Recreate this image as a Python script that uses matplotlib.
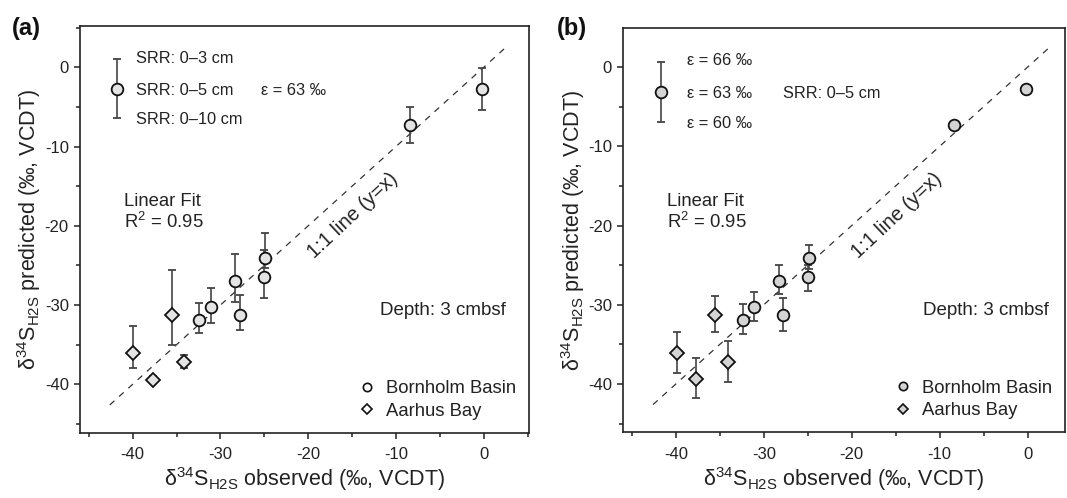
"""
Predicted vs observed d34S of H2S, two panels (SRR and epsilon sensitivity).
"""

import matplotlib
matplotlib.use("Agg")
import matplotlib.pyplot as plt
from matplotlib.lines import Line2D
from matplotlib.ticker import MultipleLocator
import numpy as np

plt.rcParams['font.family'] = ['Liberation Sans', 'DejaVu Sans']
plt.rcParams['mathtext.default'] = 'regular'
plt.rcParams['axes.unicode_minus'] = False

# Bornholm Basin (circles)
bb_obs = [-0.2, -8.4, -24.9, -25.0, -28.3, -27.8, -31.1, -32.4]
bb_pred = [-2.7, -7.3, -24.1, -26.5, -27.0, -31.3, -30.3, -31.9]
# Aarhus Bay (diamonds)
ab_obs = [-39.9, -35.5, -34.1, -37.7]
ab_pred = [-36.1, -31.3, -37.2, -39.4]

# error bar ends (top, bottom) panel (a): SRR range
bb_top_a = [-0.1, -5.0, -20.9, -23.0, -23.6, -28.7, -27.8, -29.8]
bb_bot_a = [-5.4, -9.6, -25.3, -29.1, -29.6, -33.1, -32.2, -33.5]
ab_top_a = [-32.7, -25.6, -36.3, -39.0]
ab_bot_a = [-37.9, -35.0, -37.9, -39.8]

# error bar ends panel (b): epsilon range
bb_top_b = [-2.7, -7.3, -22.5, -25.0, -25.0, -29.2, -28.4, -29.9]
bb_bot_b = [-2.7, -7.3, -25.5, -28.2, -28.7, -33.3, -32.1, -33.7]
ab_top_b = [-33.4, -28.9, -34.6, -36.7]
ab_bot_b = [-38.6, -33.4, -39.8, -41.8]

# key symbol in upper left: x, y, top, bottom
key_a = [-41.8, -2.7, 1.0, -6.4]
key_b = [-41.7, -3.1, 0.7, -6.9]
key_labels_a = ["SRR: 0–3 cm", "SRR: 0–5 cm", "SRR: 0–10 cm"]
key_labels_b = ["ε = 66 ‰", "ε = 63 ‰", "ε = 60 ‰"]
side_label_a = "ε = 63 ‰"
side_label_b = "SRR: 0–5 cm"

TXT = '#222222'
ERR = '#444444'


def panel(ax, tops, bots, key, key_labels, side_label, face, legend_face,
          key_dx, side_x, xmax, ymax):
    bb_t, bb_b = tops[0], bots[0]
    ab_t, ab_b = tops[1], bots[1]

    # 1:1 line
    line_x = np.array([-42.6, 2.5])
    ax.plot(line_x, line_x, ls=(0, (5, 5)), color='#333333', lw=0.9, zorder=1)

    y = np.array(bb_pred)
    yerr = [y - np.array(bb_b), np.array(bb_t) - y]
    ax.errorbar(bb_obs, bb_pred, yerr=yerr, fmt='o', ms=8.4, mfc=face, mec='#111111',
                mew=1.3, ecolor=ERR, elinewidth=1.2, capsize=3, capthick=1.2, zorder=3)
    y = np.array(ab_pred)
    yerr = [y - np.array(ab_b), np.array(ab_t) - y]
    ax.errorbar(ab_obs, ab_pred, yerr=yerr, fmt='D', ms=7.2, mfc=face, mec='#111111',
                mew=1.3, ecolor=ERR, elinewidth=1.2, capsize=3, capthick=1.2, zorder=3)

    # key symbol
    kx, ky, kt, kb = key
    ax.errorbar([kx], [ky], yerr=[[ky - kb], [kt - ky]], fmt='o', ms=8.4, mfc=face,
                mec='#111111', mew=1.3, ecolor=ERR, elinewidth=1.2, capsize=3, capthick=1.2)
    tx = kx + key_dx
    for lab, ty in zip(key_labels, [kt + 0.1, ky - 0.2, kb - 0.2]):
        ax.text(tx, ty, lab, fontsize=11.8, color=TXT, va='center', ha='left')
    ax.text(side_x, ky - 0.2, side_label, fontsize=11.8, color=TXT, va='center', ha='left')

    ax.text(-41.0, -16.9, "Linear Fit", fontsize=13.3, color=TXT, va='center')
    ax.text(-41.0, -19.5, "R$^2$ = 0.95", fontsize=13.3, color=TXT, va='center')
    ax.text(-14.9, -18.7, "1:1 line (y=x)", fontsize=14.5, color=TXT, rotation=43,
            ha='center', va='center', rotation_mode='anchor')
    ax.text(-4.7, -30.7, "Depth: 3 cmbsf", fontsize=13.5, color=TXT, ha='center', va='center')

    handles = [
        Line2D([], [], ls='none', marker='o', ms=6, mfc=legend_face, mec='#111111', mew=1.2),
        Line2D([], [], ls='none', marker='D', ms=5, mfc=legend_face, mec='#111111', mew=1.2),
    ]
    ax.legend(handles, ["Bornholm Basin", "Aarhus Bay"], loc='lower right', frameon=False,
              fontsize=13.3, handletextpad=0.4, handlelength=1.2, labelspacing=0.3,
              borderaxespad=0.3, labelcolor=TXT)

    ax.set_xlim(-46, xmax)
    ax.set_ylim(-46.1, ymax)
    ax.xaxis.set_major_locator(MultipleLocator(10))
    ax.xaxis.set_minor_locator(MultipleLocator(5))
    ax.yaxis.set_major_locator(MultipleLocator(10))
    ax.yaxis.set_minor_locator(MultipleLocator(5))
    ax.tick_params(which='both', direction='out', width=1.1, colors='#222222',
                   labelsize=12, labelcolor=TXT)
    ax.tick_params(which='major', length=4.5)
    ax.tick_params(which='minor', length=3)
    ax.tick_params(axis='x', which='major', pad=6)
    ax.tick_params(axis='y', which='major', pad=3.5)
    for s in ax.spines.values():
        s.set_linewidth(1.2)
        s.set_color('#222222')
    ax.set_xlabel("δ$^{34}$S$_{H2S}$ observed (‰, VCDT)", fontsize=15.5, color=TXT, labelpad=2)
    ax.set_ylabel("δ$^{34}$S$_{H2S}$ predicted (‰, VCDT)", fontsize=15.5, color=TXT, labelpad=1)


fig = plt.figure(figsize=(10.67, 4.98), dpi=100)
ax_a = fig.add_axes([0.0749, 0.1311, 0.4205, 0.8167])
ax_b = fig.add_axes([0.584, 0.1319, 0.414, 0.8112])

panel(ax_a, (bb_top_a, ab_top_a), (bb_bot_a, ab_bot_a), key_a, key_labels_a,
      side_label_a, '#e4e4e4', 'white', 2.2, -25.4, 5.1, 5.2)
panel(ax_b, (bb_top_b, ab_top_b), (bb_bot_b, ab_bot_b), key_b, key_labels_b,
      side_label_b, '#d4d4d4', '#d4d4d4', 2.95, -27.8, 4.25, 4.9)

fig.text(0.011, 0.966, "(a)", fontsize=17, fontweight='bold', va='top', ha='left', color='#111111')
fig.text(0.522, 0.966, "(b)", fontsize=17, fontweight='bold', va='top', ha='left', color='#111111')

fig.savefig("out.png", dpi=100)
